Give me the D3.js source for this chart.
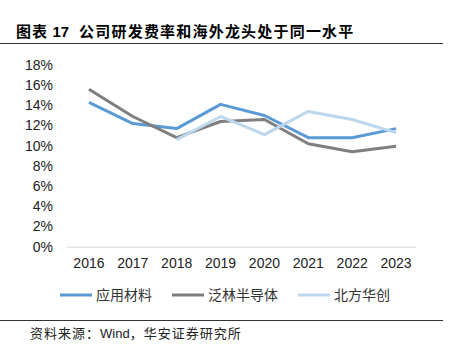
<!DOCTYPE html>
<html>
<head>
<meta charset="utf-8">
<script src="https://cdn.jsdelivr.net/npm/d3@7"></script>
<style>
  body { margin: 0; background: #fff; }
  svg { display: block; font-family: "Liberation Sans", Arial, "Noto Sans CJK SC", sans-serif; }
</style>
</head>
<body>
<svg id="chart" width="449" height="353"></svg>
<script>
// years and series (R&D expense ratio, %)
const years = ["2016", "2017", "2018", "2019", "2020", "2021", "2022", "2023"];
const amat = [14.3, 12.2, 11.7, 14.1, 13.0, 10.8, 10.8, 11.7];
const lam = [15.6, 12.9, 10.8, 12.4, 12.6, 10.2, 9.4, 9.95];
const naura = [null, null, 10.6, 12.9, 11.1, 13.4, 12.6, 11.3];
const seriesNames = ["应用材料", "泛林半导体", "北方华创"];
const yTicks = [0, 2, 4, 6, 8, 10, 12, 14, 16, 18];

const colors = ["#5B9BD5", "#7F7F7F", "#BDD7EE"];
const series = [amat, lam, naura];

const svg = d3.select("#chart");
const cjk = '"Noto Sans CJK SC", sans-serif';

// title
const title = svg.append("text")
    .attr("x", 16).attr("y", 37)
    .style("font-family", cjk)
    .style("font-size", "15px")
    .style("font-weight", "bold")
    .attr("fill", "#000");
title.append("tspan").style("letter-spacing", "1px").text("图表 ");
title.append("tspan").style("font-family", '"Liberation Sans", Arial').text("17");
title.append("tspan").attr("dx", 10).style("letter-spacing", "1.2px").text("公司研发费率和海外龙头处于同一水平");

svg.append("line")
    .attr("x1", 0).attr("x2", 443).attr("y1", 43.5).attr("y2", 43.5)
    .attr("stroke", "#333").attr("stroke-width", 1);

// scales
const x = d3.scaleBand().domain(years).range([67, 418]);
const y = d3.scaleLinear().domain([0, 18]).range([246.7, 65]);

// y axis labels
svg.append("g").selectAll("text")
    .data(yTicks)
    .enter().append("text")
    .attr("x", 53)
    .attr("y", d => y(d))
    .attr("dy", "0.35em")
    .attr("text-anchor", "end")
    .style("font-size", "14px")
    .attr("fill", "#222")
    .text(d => d + "%");

// baseline
svg.append("line")
    .attr("x1", 67).attr("x2", 416)
    .attr("y1", y(0) + 0.5).attr("y2", y(0) + 0.5)
    .attr("stroke", "#d9d9d9").attr("stroke-width", 1);

// x axis labels
svg.append("g").selectAll("text")
    .data(years)
    .enter().append("text")
    .attr("x", d => x(d) + x.bandwidth() / 2)
    .attr("y", 263)
    .attr("dy", "0.35em")
    .attr("text-anchor", "middle")
    .style("font-size", "14px")
    .attr("fill", "#222")
    .text(d => d);

// lines
const line = d3.line()
    .defined(d => d != null)
    .x((d, i) => x(years[i]) + x.bandwidth() / 2)
    .y(d => y(d));

series.forEach((s, i) => {
    svg.append("path")
        .datum(s)
        .attr("fill", "none")
        .attr("stroke", colors[i])
        .attr("stroke-width", 3)
        .attr("stroke-linejoin", "round")
        .attr("d", line);
});

// legend
const legendX = [60, 172, 298];
const legend = svg.append("g");
seriesNames.forEach((name, i) => {
    legend.append("line")
        .attr("x1", legendX[i]).attr("x2", legendX[i] + 32)
        .attr("y1", 295).attr("y2", 295)
        .attr("stroke", colors[i]).attr("stroke-width", 3);
    legend.append("text")
        .attr("x", legendX[i] + 36).attr("y", 295)
        .attr("dy", "0.35em")
        .style("font-family", cjk)
        .style("font-size", "14px")
        .attr("fill", "#333")
        .text(name);
});

svg.append("line")
    .attr("x1", 0).attr("x2", 443).attr("y1", 320.5).attr("y2", 320.5)
    .attr("stroke", "#333").attr("stroke-width", 1);

// source note
const src = svg.append("text")
    .attr("x", 30).attr("y", 333)
    .attr("dy", "0.35em")
    .style("font-family", cjk)
    .style("font-size", "13px")
    .attr("fill", "#222");
src.append("tspan").style("letter-spacing", "1px").text("资料来源：");
src.append("tspan").style("font-family", '"Liberation Sans", Arial').text("Wind");
src.append("tspan").style("letter-spacing", "1px").text("，华安证券研究所");
</script>
</body>
</html>
